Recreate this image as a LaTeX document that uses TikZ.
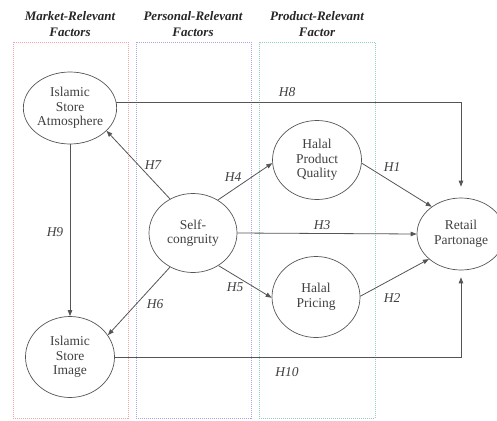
\documentclass[tikz,border=0pt]{standalone}
\usepackage{fontspec}
\setmainfont{Liberation Serif}
\usetikzlibrary{shapes.geometric,arrows.meta,calc}
\definecolor{txt}{HTML}{404040}
\definecolor{ln}{HTML}{555555}
\definecolor{redbox}{HTML}{F4A6A6}
\definecolor{bluebox}{HTML}{A8A8E4}
\definecolor{greenbox}{HTML}{8ED4BA}
\tikzset{
  construct/.style={ellipse, draw=ln, line width=0.7pt, inner sep=0pt, align=center,
    text=txt, font=\fontsize{13.5}{14.5}\selectfont},
  link/.style={draw=ln, line width=0.8pt, -{Triangle[length=6pt,width=4.5pt]}},
  hyp/.style={text=txt, font=\fontsize{13.5}{14.5}\selectfont\itshape},
  factorbox/.style={dash pattern=on 1pt off 1pt, line width=0.5pt},
  title/.style={align=center, text=black!85, font=\fontsize{13}{16}\selectfont\bfseries\itshape}
}
\begin{document}
\begin{tikzpicture}[x=1pt,y=-1pt]
\useasboundingbox (0,0) rectangle (497,420);
% factor boxes
\draw[factorbox, draw=redbox] (13,42) rectangle (128,418);
\draw[factorbox, draw=bluebox] (136,42) rectangle (251,418);
\draw[factorbox, draw=greenbox] (259,42) rectangle (375,418);
\node[title] (t1) at (70,24) {Market-Relevant\\Factors};
\node[title] (t2) at (193,24) {Personal-Relevant\\Factors};
\node[title] (t3) at (317,24) {Product-Relevant\\Factor};
% constructs
\node[construct, minimum width=89pt, minimum height=72pt] (atm) at (70,108) {Islamic\\Store\\Atmosphere};
\node[construct, minimum width=89pt, minimum height=81pt] (img) at (70,357) {Islamic\\Store\\Image};
\node[construct, minimum width=88pt, minimum height=79pt] (self) at (193,233) {Self-\\congruity};
\node[construct, minimum width=89pt, minimum height=79pt] (hpq) at (317,160) {Halal\\Product\\Quality};
\node[construct, minimum width=88pt, minimum height=81pt] (hp) at (316,297) {Halal\\Pricing};
\node[construct, minimum width=88pt, minimum height=72pt] (rp) at (461,234) {Retail\\Partonage};
% connectors
\draw[link] (atm.7) -| ([yshift=11pt]rp.north);
\draw[link] (img.east) -| ([yshift=-7pt]rp.south);
\draw[link] (atm.south) -- (img.north);
\draw[link] (self.124) -- (atm.-32);
\draw[link] (self.53) -- (hpq.184);
\draw[link] (self.236) -- (img.30);
\draw[link] (self.-52) -- (hp.181);
\draw[link] (self.east) -- (rp.west);
\draw[link] (hpq.-4) -- (rp.137);
\draw[link] (hp.1) -- (rp.218);
% hypothesis labels
\node[hyp] (h8) at (287,92) {H8};
\node[hyp] (h7) at (153,165) {H7};
\node[hyp] (h4) at (233,177) {H4};
\node[hyp] (h1) at (392,167) {H1};
\node[hyp] (h3) at (322,225) {H3};
\node[hyp] (h9) at (55,232) {H9};
\node[hyp] (h6) at (155,304) {H6};
\node[hyp] (h5) at (235,287) {H5};
\node[hyp] (h2) at (392,298) {H2};
\node[hyp] (h10) at (287,372) {H10};
\end{tikzpicture}
\end{document}
